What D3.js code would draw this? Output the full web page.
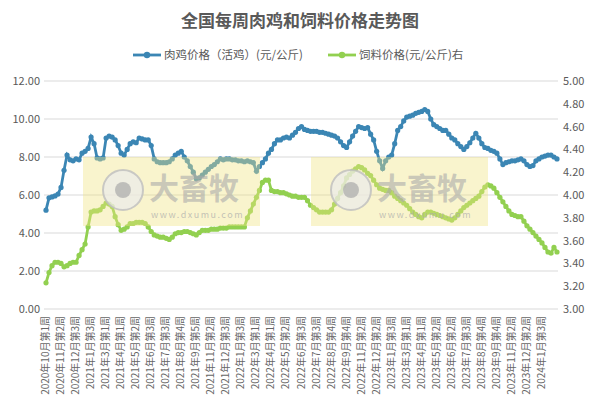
<!DOCTYPE html>
<html><head><meta charset="utf-8">
<script src="https://cdn.jsdelivr.net/npm/d3@7/dist/d3.min.js"></script>
<style>body{margin:0;background:#fff}text{font-family:"Noto Sans CJK SC","Microsoft YaHei",sans-serif}</style>
</head><body><svg id="c" width="600" height="414"></svg>
<script>
const tickLabels=["2020年10月第1周","2020年11月第2周","2020年12月第3周","2021年1月第3周","2021年3月第1周","2021年4月第1周","2021年5月第2周","2021年6月第3周","2021年7月第3周","2021年8月第4周","2021年9月第5周","2021年11月第2周","2021年12月第3周","2022年1月第3周","2022年3月第1周","2022年4月第1周","2022年5月第2周","2022年6月第3周","2022年7月第3周","2022年8月第4周","2022年9月第4周","2022年11月第2周","2022年12月第2周","2023年1月第3周","2023年3月第1周","2023年4月第1周","2023年5月第2周","2023年6月第2周","2023年7月第3周","2023年8月第4周","2023年9月第4周","2023年11月第2周","2023年12月第2周","2024年1月第3周"];
const chicken=[5.2,5.85,5.9,5.95,6.05,6.4,7.3,8.1,7.85,7.8,
7.9,7.85,8.2,8.3,8.45,9.05,8.7,7.95,7.9,7.95,
9.0,9.1,9.05,8.9,8.6,8.2,8.1,8.4,8.7,8.8,
8.75,9.0,8.95,8.9,8.9,8.6,7.9,7.75,7.7,7.7,
7.7,7.75,7.9,8.1,8.2,8.3,8.0,7.8,7.5,7.2,
6.85,6.9,7.05,7.2,7.35,7.5,7.6,7.75,7.9,7.85,
7.9,7.9,7.85,7.85,7.8,7.8,7.75,7.8,7.75,7.7,
7.25,7.5,7.7,7.9,8.2,8.4,8.7,8.9,8.9,9.0,
9.05,9.0,9.15,9.3,9.5,9.6,9.45,9.4,9.35,9.35,
9.35,9.3,9.3,9.25,9.2,9.15,9.1,9.0,8.8,8.6,
8.5,8.8,9.1,9.35,9.6,9.55,9.5,9.55,9.2,8.9,
8.3,7.8,7.4,7.8,8.0,8.1,8.7,9.4,9.6,9.9,
10.1,10.15,10.2,10.3,10.35,10.4,10.5,10.4,10.0,9.7,
9.6,9.5,9.4,9.4,9.2,9.0,8.9,8.7,8.55,8.4,
8.55,8.75,9.0,9.25,9.0,8.7,8.5,8.45,8.35,8.3,
8.2,7.9,7.6,7.7,7.75,7.8,7.8,7.85,7.9,7.8,
7.6,7.5,7.55,7.8,7.9,8.0,8.05,8.1,8.1,8.0,7.9];
const feed=[3.23,3.32,3.38,3.41,3.41,3.40,3.37,3.38,3.40,3.41,
3.41,3.47,3.52,3.57,3.72,3.85,3.86,3.86,3.87,3.90,
3.93,3.92,3.90,3.81,3.74,3.69,3.70,3.72,3.75,3.75,
3.76,3.76,3.76,3.75,3.72,3.68,3.65,3.64,3.63,3.63,
3.62,3.61,3.63,3.66,3.67,3.67,3.68,3.68,3.67,3.66,
3.65,3.67,3.69,3.69,3.69,3.70,3.70,3.70,3.71,3.71,
3.71,3.72,3.72,3.72,3.72,3.72,3.72,3.80,3.86,3.92,
3.98,4.04,4.11,4.13,4.13,4.04,4.03,4.03,4.02,4.02,
4.01,4.00,3.99,3.99,3.98,3.98,3.98,3.95,3.91,3.89,
3.87,3.85,3.85,3.85,3.85,3.87,3.92,3.97,4.02,4.08,
4.15,4.18,4.21,4.23,4.25,4.24,4.22,4.19,4.17,4.13,
4.09,4.06,4.05,4.04,4.04,4.02,3.99,3.97,3.95,3.93,
3.91,3.88,3.85,3.83,3.81,3.80,3.83,3.85,3.85,3.84,
3.83,3.82,3.81,3.80,3.79,3.78,3.80,3.83,3.86,3.89,
3.91,3.93,3.95,3.97,3.99,4.03,4.07,4.09,4.08,4.06,
4.02,3.98,3.94,3.90,3.86,3.83,3.82,3.81,3.81,3.77,
3.73,3.70,3.67,3.64,3.61,3.58,3.54,3.50,3.49,3.54,3.50];
const leftTicks=[0,2,4,6,8,10,12], rightTicks=[3,3.2,3.4,3.6,3.8,4,4.2,4.4,4.6,4.8,5];
const weeks=d3.range(chicken.length);
const svg=d3.select("#c");
const x=d3.scaleLinear().domain([0,weeks.length-1]).range([46,557]);
const yL=d3.scaleLinear().domain([0,12]).range([309,81]);
const yR=d3.scaleLinear().domain([3,5]).range([309,81]);
const blue="#3b86b4", green="#92d050";
svg.append("text").attr("x",300).attr("y",27).attr("text-anchor","middle").attr("font-size",17).attr("font-weight","bold").attr("fill","#595959").text("全国每周肉鸡和饲料价格走势图");
svg.append("g").selectAll("line").data(leftTicks).join("line").attr("x1",44).attr("x2",558).attr("y1",d=>yL(d)).attr("y2",d=>yL(d)).attr("stroke","#d9d9d9");
svg.append("g").selectAll("text").data(leftTicks).join("text").attr("x",40).attr("y",d=>yL(d)+4).attr("text-anchor","end").attr("font-size",11).attr("fill","#595959").text(d=>d.toFixed(2));
svg.append("g").selectAll("text").data(rightTicks).join("text").attr("x",563).attr("y",d=>yR(d)+4).attr("font-size",11).attr("fill","#595959").text(d=>d.toFixed(2));
const tg=svg.append("g");
tickLabels.forEach((t,k)=>{const xi=x(k*5)+3;tg.append("text").attr("transform",`translate(${xi},316) rotate(-90)`).attr("text-anchor","end").attr("font-size",10).attr("fill","#666").text(t);});
function series(vals,y,col){
 svg.append("path").datum(vals).attr("fill","none").attr("stroke",col).attr("stroke-width",2.8).attr("d",d3.line().x((d,i)=>x(i)).y(d=>y(d)));
 svg.append("g").selectAll("circle").data(vals).join("circle").attr("cx",(d,i)=>x(i)).attr("cy",d=>y(d)).attr("r",2.6).attr("fill",col);
}
series(feed,yR,green);
series(chicken,yL,blue);
[[83,260],[311,488]].forEach(([a,b])=>{
 const g=svg.append("g");
 g.append("rect").attr("x",a).attr("y",157).attr("width",b-a).attr("height",69).attr("fill","rgba(240,228,130,0.4)");
 g.append("circle").attr("cx",a+40).attr("cy",190).attr("r",20).attr("fill","rgba(235,235,235,0.7)").attr("stroke","rgba(190,190,190,0.8)").attr("stroke-width",2);
 g.append("circle").attr("cx",a+40).attr("cy",190).attr("r",8).attr("fill","rgba(170,170,170,0.7)");
 g.append("text").attr("x",a+66).attr("y",199).attr("font-size",30).attr("font-weight","bold").attr("fill","rgba(170,170,170,0.6)").text("大畜牧");
 g.append("text").attr("x",a+68).attr("y",218).attr("font-size",9).attr("letter-spacing",1.5).attr("fill","rgba(170,170,170,0.7)").text("www.dxumu.com");
});
const lg=svg.append("g");
[[133,blue,"肉鸡价格（活鸡）(元/公斤)"],[328,green,"饲料价格(元/公斤)右"]].forEach(([lx,c,t])=>{
 lg.append("line").attr("x1",lx).attr("x2",lx+28).attr("y1",55).attr("y2",55).attr("stroke",c).attr("stroke-width",2.8);
 lg.append("circle").attr("cx",lx+14).attr("cy",55).attr("r",3.2).attr("fill",c);
 lg.append("text").attr("x",lx+31).attr("y",59).attr("font-size",11.5).attr("fill","#595959").text(t);
});
</script></body></html>
